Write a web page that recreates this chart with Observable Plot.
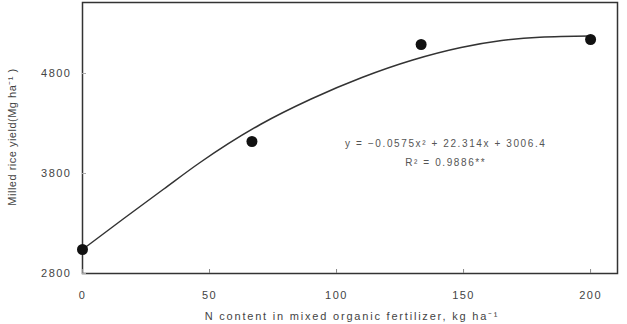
<!DOCTYPE html>
<html>
<head>
<meta charset="utf-8">
<script src="https://cdn.jsdelivr.net/npm/d3@7"></script>
<script src="https://cdn.jsdelivr.net/npm/@observablehq/plot@0.6"></script>
<style>
  html, body { margin: 0; padding: 0; background: #fff; }
  svg { display: block; }
</style>
</head>
<body>
<div id="chart"></div>
<script>
// Observed data points
const nRate = [0, 66.7, 133.3, 200];
const yieldObs = [3040, 4120, 5090, 5140];

// Fitted quadratic curve
const curveX = [0, 16, 32, 46, 70, 90, 110, 130, 149, 165, 180, 200];
const curveY = [3040, 3345, 3645, 3905, 4290, 4545, 4760, 4935, 5060, 5130, 5163, 5175];

const xTicks = [0, 50, 100, 150, 200];
const yTicks = [2800, 3800, 4800];

const eqLines = ["y = −0.0575x² + 22.314x + 3006.4", "R² = 0.9886**"];
const eqX = [143, 143];
const eqY = [4100, 3910];

const points = nRate.map((x, i) => ({x, y: yieldObs[i]}));
const curve = curveX.map((x, i) => ({x, y: curveY[i]}));
const eq = eqLines.map((t, i) => ({x: eqX[i], y: eqY[i], t}));

const fontFamily = "'Liberation Sans', Arial, sans-serif";

const chart = Plot.plot({
  width: 627,
  height: 324,
  marginLeft: 82,
  marginRight: 10,
  marginTop: 2,
  marginBottom: 51,
  style: {fontFamily, fontSize: "11px", color: "#444", background: "#fff"},
  x: {domain: [0, 210.6], ticks: xTicks},
  y: {domain: [2800, 5510], ticks: yTicks},
  marks: [
    Plot.frame({stroke: "#333", strokeWidth: 1.5}),
    Plot.axisX({ticks: xTicks, tickSize: -4, tickPadding: 22, stroke: "#888", fill: "#444", fontSize: 11, label: null, tickFormat: d3.format("d")}),
    Plot.axisY({ticks: yTicks, tickSize: -4, tickPadding: 15, stroke: "#aaa", fill: "#444", fontSize: 11, label: null, tickFormat: d3.format("d")}),
    Plot.line(curve, {x: "x", y: "y", curve: "monotone-x", stroke: "#333", strokeWidth: 1.5}),
    Plot.dot(points, {x: "x", y: "y", r: 5.5, fill: "#111", stroke: "none"}),
    Plot.text(eq, {x: "x", y: "y", text: "t", fill: "#555", fontSize: 10, fontFamily})
  ]
});

const svg = d3.select(chart);
// wider tracking like the reference
svg.selectAll('g[aria-label="x-axis tick label"] text, g[aria-label="y-axis tick label"] text')
  .attr("letter-spacing", 1.5);
svg.selectAll('g[aria-label="text"] text').attr("letter-spacing", 1.6);

// Axis titles as real text
svg.append("text")
  .attr("x", 352).attr("y", 320)
  .attr("text-anchor", "middle")
  .attr("fill", "#444")
  .attr("letter-spacing", 1.8)
  .style("font-size", "11px")
  .style("font-family", fontFamily)
  .text("N content in mixed organic fertilizer, kg ha⁻¹");
svg.append("text")
  .attr("transform", "translate(16,137) rotate(-90)")
  .attr("text-anchor", "middle")
  .attr("fill", "#444")
  .attr("letter-spacing", 0.5)
  .style("font-size", "11px")
  .style("font-family", fontFamily)
  .text("Milled rice yield(Mg ha⁻¹ )");

document.getElementById("chart").appendChild(chart);
</script>
</body>
</html>
